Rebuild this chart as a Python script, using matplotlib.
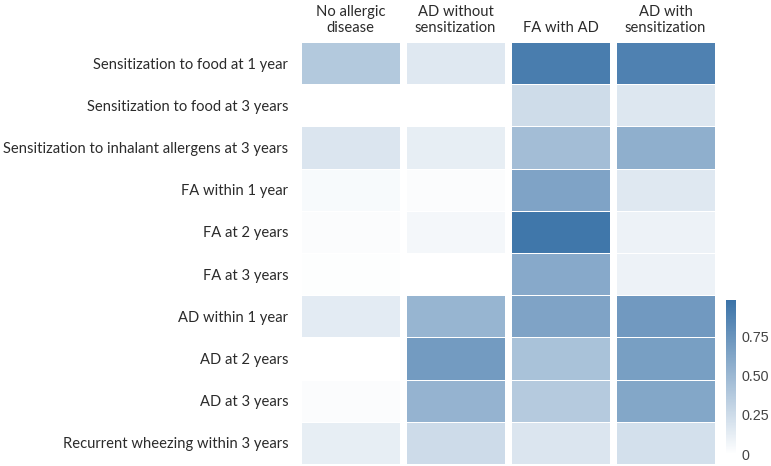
import numpy as np
import matplotlib
matplotlib.use("Agg")
import matplotlib.pyplot as plt
from matplotlib.colors import LinearSegmentedColormap, Normalize

# rows (top -> bottom) and columns of the heatmap
linhas = [
    "Sensitization to food at 1 year",
    "Sensitization to food at 3 years",
    "Sensitization to inhalant allergens at 3 years",
    "FA within 1 year",
    "FA at 2 years",
    "FA at 3 years",
    "AD within 1 year",
    "AD at 2 years",
    "AD at 3 years",
    "Recurrent wheezing within 3 years",
]
colunas = ["No allergic\ndisease", "AD without\nsensitization", "FA with AD", "AD with\nsensitization"]

# one list per column
no_allergic = [0.38, 0.00, 0.18, 0.04, 0.02, 0.01, 0.14, 0.00, 0.02, 0.12]
ad_sem_sens = [0.16, 0.00, 0.12, 0.02, 0.055, 0.00, 0.52, 0.70, 0.53, 0.25]
fa_com_ad = [0.91, 0.245, 0.46, 0.64, 0.95, 0.60, 0.64, 0.43, 0.37, 0.18]
ad_com_sens = [0.88, 0.17, 0.56, 0.16, 0.09, 0.09, 0.71, 0.67, 0.62, 0.22]

cbar_ticks = [0, 0.25, 0.50, 0.75]
cbar_labels = ["0", "0.25", "0.50", "0.75"]

dados = np.column_stack([no_allergic, ad_sem_sens, fa_com_ad, ad_com_sens])

cmap = LinearSegmentedColormap.from_list("azul", ["#ffffff", "#3b73a8"])
norm = Normalize(vmin=0, vmax=0.98)

fig = plt.figure(figsize=(7.71, 4.66), dpi=100)
ax = fig.add_axes([298 / 771, 2 / 466, 420 / 771, 422 / 466])

gap = 0.028
n = len(linhas)
y_edges = np.arange(n + 1)
for j in range(dados.shape[1]):
    x_edges = np.array([j + gap, j + 1 - gap])
    ax.pcolormesh(x_edges, y_edges, dados[:, [j]], cmap=cmap, norm=norm,
                  edgecolor="#ffffff", linewidth=0.6)

ax.set_xlim(0, 4)
ax.set_ylim(n, 0)
for s in ax.spines.values():
    s.set_visible(False)

fonte = "Lato"
ax.set_yticks(np.arange(n) + 0.5)
ax.set_yticklabels(linhas, fontsize=10.6, color="#2b2b2b", family=fonte)
ax.tick_params(axis="y", length=0, pad=7)
ax.set_xticks([])

for j, nome in enumerate(colunas):
    ax.text(j + 0.5, -0.17, nome, ha="center", va="bottom", fontsize=10.6,
            color="#2b2b2b", family=fonte, linespacing=1.15)

# colorbar
cax = fig.add_axes([726 / 771, 12 / 466, 10 / 771, 154 / 466])
sm = plt.cm.ScalarMappable(cmap=cmap, norm=norm)
cb = fig.colorbar(sm, cax=cax)
cb.outline.set_visible(False)
cb.set_ticks(cbar_ticks)
cb.set_ticklabels(cbar_labels)
cb.ax.tick_params(length=0, pad=4, labelsize=10.3, labelcolor="#444444")
for t in cb.ax.get_yticklabels():
    t.set_family("Liberation Sans")

fig.savefig("out.png", dpi=100)
